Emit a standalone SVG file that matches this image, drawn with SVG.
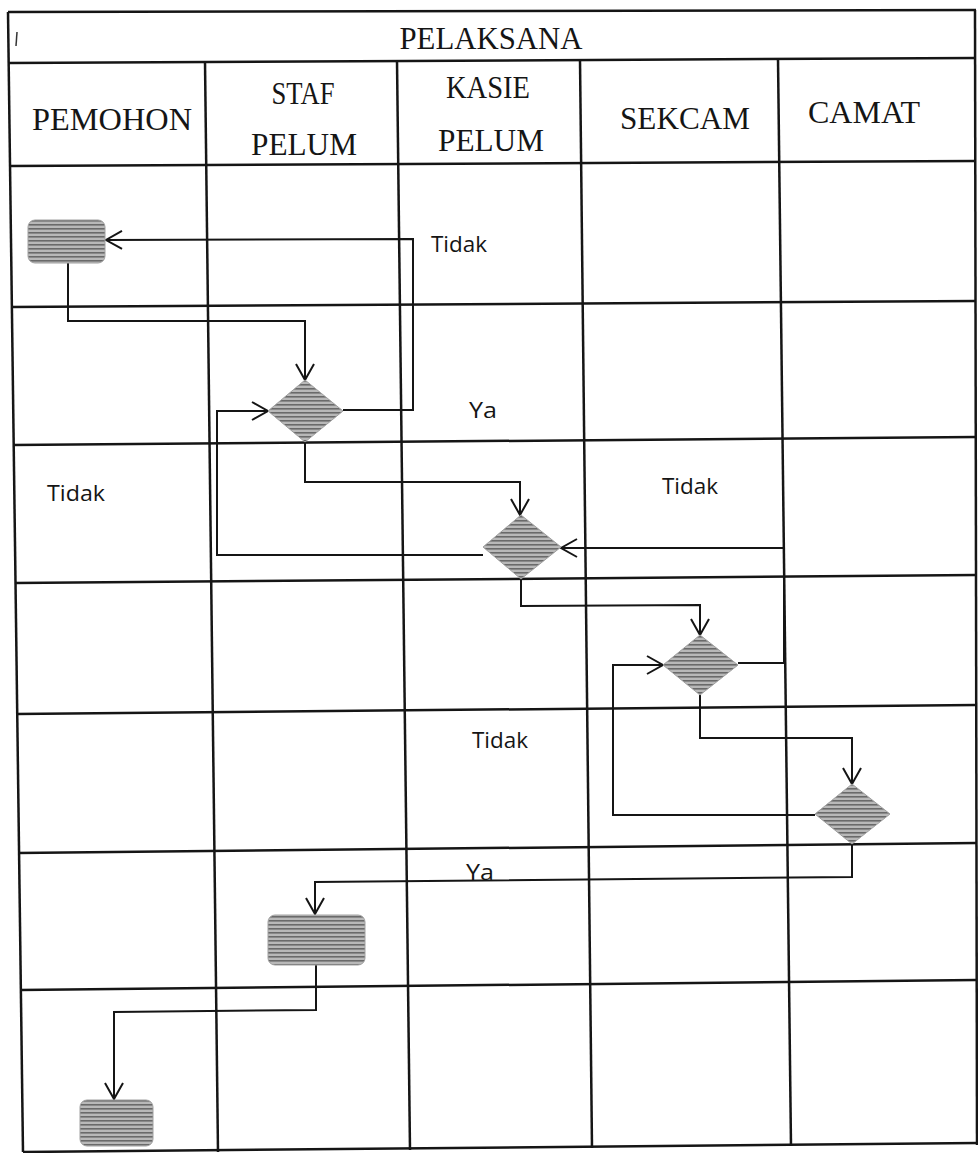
<svg xmlns="http://www.w3.org/2000/svg" width="978" height="1153" viewBox="0 0 978 1153">
<style>
.grid{stroke:#151515;stroke-width:2.5;fill:none}
.conn{stroke:#151515;stroke-width:2;fill:none}
.hdr{font-family:"Liberation Serif","Times New Roman",serif;font-size:32px;fill:#151515}
.lbl{font-family:"Open Sans","Liberation Sans",sans-serif;font-size:21px;fill:#151515}
.node{fill:url(#tex);stroke:#a0a0a0;stroke-width:1}
</style>
<defs>
<pattern id="tex" width="6" height="4" patternUnits="userSpaceOnUse">
<rect width="6" height="4" fill="#b8b8b8"/>
<rect y="0" width="6" height="1.6" fill="#6a6a6a"/>
</pattern>
<marker id="arr" viewBox="-18 -11 20 22" markerWidth="20" markerHeight="22" refX="0" refY="0" orient="auto" markerUnits="userSpaceOnUse">
<path d="M-16,-9 L0,0 L-16,9" fill="none" stroke="#151515" stroke-width="2"/>
</marker>
</defs>
<rect width="978" height="1153" fill="#ffffff"/>
<g id="grid">
<line class="grid" x1="8" y1="12" x2="976" y2="10"/>
<line class="grid" x1="8" y1="12" x2="23" y2="1152"/>
<line class="grid" x1="975" y1="10" x2="977" y2="1145"/>
<line class="grid" x1="9" y1="63" x2="976" y2="58"/>
<line class="grid" x1="10" y1="166" x2="976" y2="161"/>
<line class="grid" x1="11" y1="307" x2="976" y2="301"/>
<line class="grid" x1="13" y1="445" x2="976" y2="437"/>
<line class="grid" x1="15" y1="583" x2="976" y2="575"/>
<line class="grid" x1="16" y1="714" x2="976" y2="705"/>
<line class="grid" x1="18" y1="853" x2="976" y2="843"/>
<line class="grid" x1="20" y1="990" x2="976" y2="980"/>
<line class="grid" x1="23" y1="1152" x2="977" y2="1143"/>
<line class="grid" x1="205" y1="62" x2="218" y2="1152"/>
<line class="grid" x1="397" y1="61" x2="410" y2="1150"/>
<line class="grid" x1="580" y1="60" x2="592" y2="1148"/>
<line class="grid" x1="778" y1="59" x2="791" y2="1146"/>
<line x1="17" y1="32" x2="16" y2="46" stroke="#333" stroke-width="1.5"/>
</g>
<g id="headers">
<text class="hdr" x="491" y="49" text-anchor="middle" textLength="183" lengthAdjust="spacingAndGlyphs">PELAKSANA</text>
<text class="hdr" x="112" y="130" text-anchor="middle" textLength="160" lengthAdjust="spacingAndGlyphs">PEMOHON</text>
<text class="hdr" x="303" y="104" text-anchor="middle" textLength="63" lengthAdjust="spacingAndGlyphs">STAF</text>
<text class="hdr" x="304" y="155" text-anchor="middle" textLength="106" lengthAdjust="spacingAndGlyphs">PELUM</text>
<text class="hdr" x="488" y="98" text-anchor="middle" textLength="84" lengthAdjust="spacingAndGlyphs">KASIE</text>
<text class="hdr" x="491" y="151" text-anchor="middle" textLength="106" lengthAdjust="spacingAndGlyphs">PELUM</text>
<text class="hdr" x="685" y="129" text-anchor="middle" textLength="130" lengthAdjust="spacingAndGlyphs">SEKCAM</text>
<text class="hdr" x="864" y="123" text-anchor="middle" textLength="112" lengthAdjust="spacingAndGlyphs">CAMAT</text>
</g>
<g id="connectors">
<polyline class="conn" points="68,263 68,321 305,321 305,380" marker-end="url(#arr)"/>
<polyline class="conn" points="343,410 413,410 413,239 106,240" marker-end="url(#arr)"/>
<polyline class="conn" points="305,442 305,482 520,482 520,515" marker-end="url(#arr)"/>
<polyline class="conn" points="483,555 217,555 217,411 268,411" marker-end="url(#arr)"/>
<polyline class="conn" points="521,578 521,606 700,605 700,635" marker-end="url(#arr)"/>
<polyline class="conn" points="738,663 784,663 784,548 561,548" marker-end="url(#arr)"/>
<polyline class="conn" points="815,815 613,815 613,665 663,665" marker-end="url(#arr)"/>
<polyline class="conn" points="700,695 700,738 852,738 852,784" marker-end="url(#arr)"/>
<polyline class="conn" points="852,843 852,877 315,882 315,914" marker-end="url(#arr)"/>
<polyline class="conn" points="316,965 316,1010 114,1012 114,1099" marker-end="url(#arr)"/>
</g>
<g id="labels">
<text class="lbl" x="431" y="252" textLength="56" lengthAdjust="spacingAndGlyphs">Tidak</text>
<text class="lbl" x="469" y="418" textLength="28" lengthAdjust="spacingAndGlyphs">Ya</text>
<text class="lbl" x="47" y="501" textLength="58" lengthAdjust="spacingAndGlyphs">Tidak</text>
<text class="lbl" x="662" y="494" textLength="56" lengthAdjust="spacingAndGlyphs">Tidak</text>
<text class="lbl" x="472" y="748" textLength="56" lengthAdjust="spacingAndGlyphs">Tidak</text>
<text class="lbl" x="466" y="880" textLength="28" lengthAdjust="spacingAndGlyphs">Ya</text>
</g>
<g id="start">
<rect class="node" x="28" y="220" width="77" height="43" rx="7"/>
</g>
<g id="decision1">
<polygon class="node" points="305,380 343,411 305,442 268,411"/>
</g>
<g id="decision2">
<polygon class="node" points="521,515 561,547 521,579 483,547"/>
</g>
<g id="decision3">
<polygon class="node" points="700,635 738,665 700,695 663,665"/>
</g>
<g id="decision4">
<polygon class="node" points="852,784 890,814 852,844 815,814"/>
</g>
<g id="process">
<rect class="node" x="268" y="915" width="97" height="50" rx="7"/>
</g>
<g id="end">
<rect class="node" x="80" y="1100" width="73" height="46" rx="7"/>
</g>
</svg>
